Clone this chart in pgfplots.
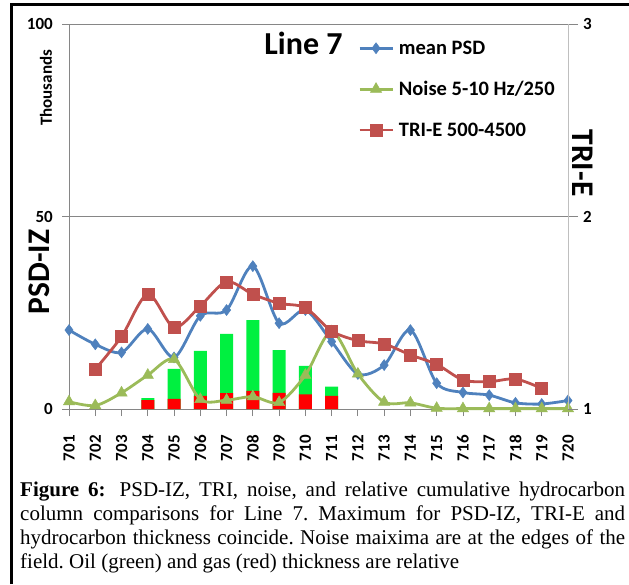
\documentclass[border=0pt]{standalone}
\usepackage{fontspec}
\setmainfont{Carlito}
\newfontfamily\timesfont{Liberation Serif}
\usepackage{pgfplots}
\pgfplotsset{compat=1.18}
\definecolor{psdblue}{HTML}{4F81BD}
\definecolor{noisegreen}{HTML}{9BBB59}
\definecolor{trired}{HTML}{C0504D}
\definecolor{oilgreen}{HTML}{00F040}
\definecolor{gasred}{HTML}{FF0000}
\definecolor{axgrey}{HTML}{868686}
\definecolor{lightgrey}{HTML}{BFBFBF}
\begin{document}
\frenchspacing
\begin{tikzpicture}[x=1pt,y=1pt]
\path[use as bounding box] (0,0) rectangle (629,584);
\draw[line width=3pt] (11.7,0) -- (11.7,579.6) -- (629,579.6);
% ---------- primary axis ----------
\begin{axis}[
  at={(69pt,175pt)}, anchor=south west,
  scale only axis, width=499pt, height=385pt,
  xmin=0, xmax=19, ymin=0, ymax=100,
  axis x line*=bottom, axis y line*=left,
  axis line style={draw=axgrey, line width=0.8pt, -},
  xtick={0,...,19},
  xticklabels={\textbf{701},\textbf{702},\textbf{703},\textbf{704},\textbf{705},\textbf{706},\textbf{707},\textbf{708},\textbf{709},\textbf{710},\textbf{711},\textbf{712},\textbf{713},\textbf{714},\textbf{715},\textbf{716},\textbf{717},\textbf{718},\textbf{719},\textbf{720}},
  ytick={0,50,100},
  /pgf/number format/assume math mode=true,
  ymajorgrids, grid style={draw=axgrey, line width=0.8pt},
  tick align=outside, major tick length=7pt,
  tick style={draw=axgrey, line width=0.8pt},
  xticklabel style={rotate=90, anchor=east, inner sep=0pt, font=\bfseries\fontsize{17}{17}\selectfont},
  yticklabel style={anchor=east, inner sep=0pt, font=\bfseries\fontsize{17}{17}\selectfont},
  xticklabel shift=19pt, yticklabel shift=9pt,
  clip=false,
]
% oil + gas total (green), gas drawn over it (red)
\addplot[ybar, bar width=13pt, bar shift=0pt, fill=oilgreen, draw=none]
  coordinates {(3,2.8) (4,10.4) (5,15.1) (6,19.5) (7,23.1) (8,15.3) (9,11.2) (10,5.8)};
\addplot[ybar, bar width=13pt, bar shift=0pt, fill=gasred, draw=none]
  coordinates {(3,2.3) (4,2.6) (5,3.4) (6,4.1) (7,4.7) (8,4.2) (9,3.8) (10,3.4)};
% mean PSD
\addplot[psdblue, line width=2.8pt, smooth, mark=diamond*, mark size=5.5pt,
  mark options={fill=psdblue, draw=psdblue, line width=0.5pt}]
  coordinates {(0,20.5) (1,16.8) (2,14.7) (3,20.8) (4,13.4) (5,24.2) (6,25.7) (7,37.1) (8,22.3) (9,25.7)
               (10,17.5) (11,9.1) (12,11.4) (13,20.5) (14,6.7) (15,4.3) (16,3.6) (17,1.6) (18,1.3) (19,2.2)};
% Noise
\addplot[noisegreen, line width=2.8pt, smooth, mark=triangle*, mark size=6.5pt,
  mark options={fill=noisegreen, draw=noisegreen, line width=0.5pt}]
  coordinates {(0,1.9) (1,0.9) (2,4.2) (3,8.8) (4,12.9) (5,2.5) (6,2.3) (7,3.2) (8,1.7) (9,8.8)
               (10,20.1) (11,9.1) (12,1.8) (13,1.6) (14,0.2) (15,0.1) (16,0.1) (17,0.1) (18,0.1) (19,0.1)};
\end{axis}
% ---------- secondary axis ----------
\begin{axis}[
  at={(69pt,175pt)}, anchor=south west,
  scale only axis, width=499pt, height=385pt,
  xmin=0, xmax=19, ymin=1, ymax=3,
  axis x line=none, axis y line*=right,
  y axis line style={draw=lightgrey, line width=0.8pt, -},
  ytick={1,2,3},
  /pgf/number format/assume math mode=true,
  tick align=outside, major tick length=10pt,
  tick style={draw=axgrey, line width=0.8pt},
  yticklabel style={anchor=west, inner sep=0pt, font=\bfseries\fontsize{17}{17}\selectfont},
  yticklabel shift=5pt,
  clip=false,
  legend style={at={(0.579,0.957)}, anchor=north west, draw=none, fill=none,
    font=\bfseries\fontsize{20.5}{20.5}\selectfont, row sep=25.5pt, column sep=5pt, inner sep=0pt,
    nodes={inner sep=0pt}},
  legend cell align=left,
  legend image code/.code={\draw[mark repeat=2,mark phase=2] plot coordinates {(0pt,0pt) (16.5pt,0pt) (33pt,0pt)};},
]
\addlegendimage{psdblue, line width=2.8pt, mark=diamond*, mark size=5.5pt, mark options={fill=psdblue, line width=0.5pt}}
\addlegendentry{mean PSD}
\addlegendimage{noisegreen, line width=2.8pt, mark=triangle*, mark size=6.5pt, mark options={fill=noisegreen, line width=0.5pt}}
\addlegendentry{Noise 5-10 Hz/250}
\addplot[trired, line width=2.8pt, smooth, mark=square*, mark size=6pt,
  mark options={fill=trired, draw=trired, line width=0.5pt}]
  coordinates {(1,1.206) (2,1.376) (3,1.596) (4,1.424) (5,1.535) (6,1.661) (7,1.596) (8,1.549) (9,1.526)
               (10,1.405) (11,1.355) (12,1.338) (13,1.281) (14,1.232) (15,1.151) (16,1.142) (17,1.156) (18,1.107)};
\addlegendentry{TRI-E 500-4500}
\end{axis}
% ---------- texts ----------
\node[anchor=base, inner sep=0pt, font=\bfseries\fontsize{32}{32}\selectfont] at (303.5,529) {Line 7};
\node[rotate=90, inner sep=0pt, font=\bfseries\fontsize{31.5}{31.5}\selectfont] at (39,312) {PSD-IZ};
\node[rotate=90, inner sep=0pt, font=\bfseries\fontsize{17}{17}\selectfont] at (46,496) {Thousands};
\node[rotate=-90, inner sep=0pt, font=\bfseries\fontsize{31.5}{31.5}\selectfont] at (583,421) {TRI-E};
% caption
\begin{scope}[every node/.style={anchor=base west, inner sep=0pt, font=\timesfont\fontsize{21}{24}\selectfont}]
\node at (20,87.5) {\makebox[605pt][s]{\textbf{Figure 6:}\hspace{5pt} PSD-IZ, TRI, noise, and relative cumulative hydrocarbon}};
\node at (20,63.5) {\makebox[605pt][s]{column comparisons for Line 7. Maximum for PSD-IZ, TRI-E and}};
\node at (20,39.5) {\makebox[605pt][s]{hydrocarbon thickness coincide. Noise maixima are at the edges of the}};
\node at (20,15.5) {field. Oil (green) and gas (red) thickness are relative};
\end{scope}
\end{tikzpicture}
\end{document}
